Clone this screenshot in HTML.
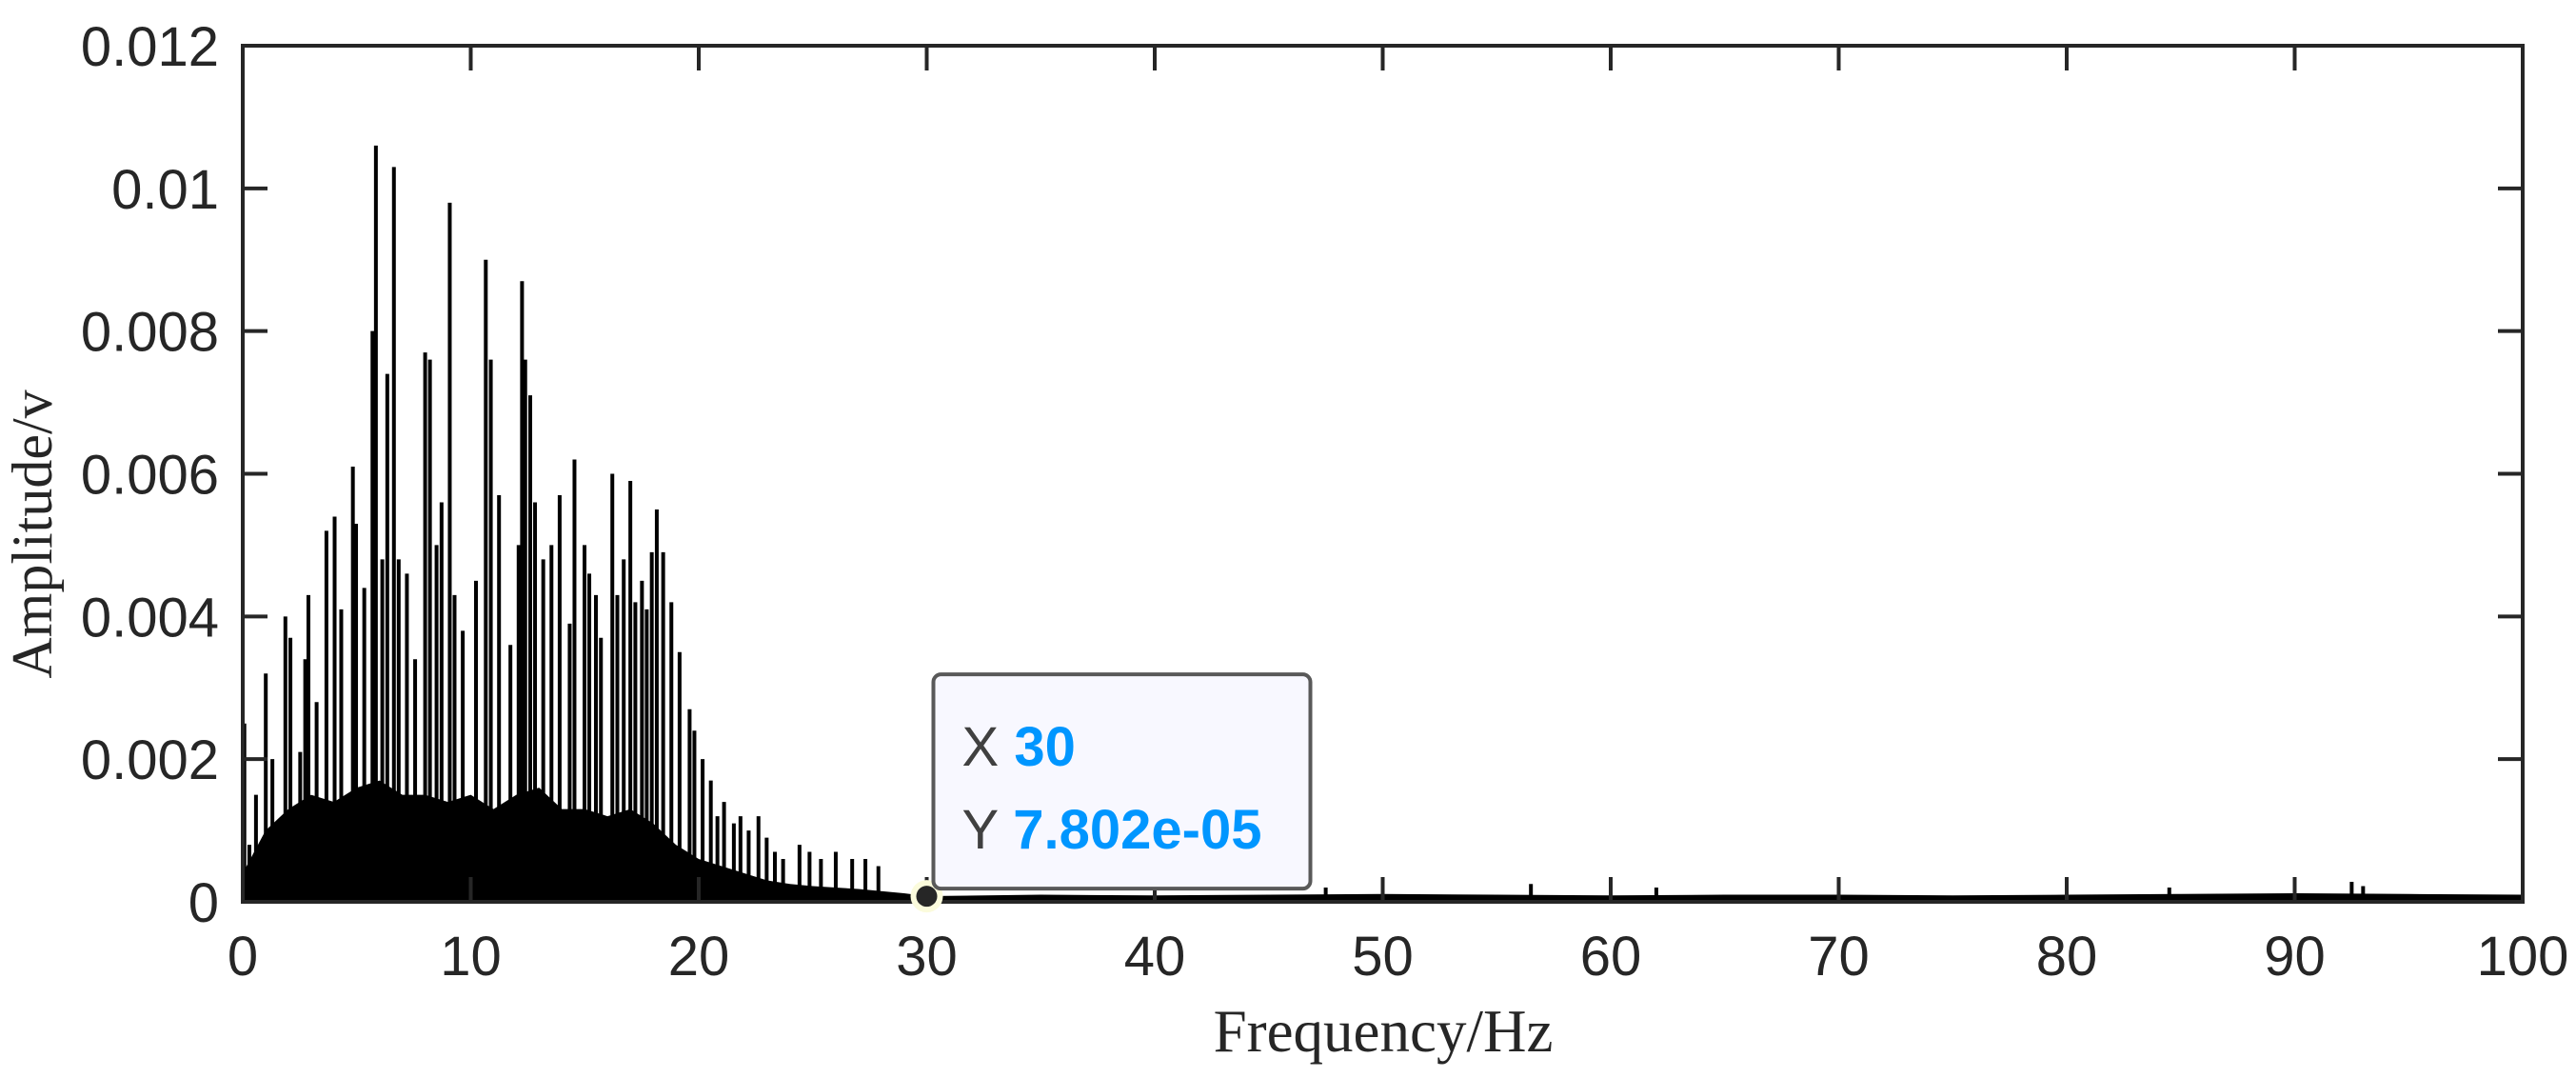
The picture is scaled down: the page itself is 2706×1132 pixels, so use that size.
<!DOCTYPE html>
<html><head><meta charset="utf-8"><style>
html,body{margin:0;padding:0;background:#fff;}
svg{display:block;}
</style></head><body>
<svg id="chart" width="2706" height="1132" viewBox="0 0 2706 1132" xmlns="http://www.w3.org/2000/svg">
<rect width="2706" height="1132" fill="#fff"/>
<g id="plot"></g>
<g id="axes"></g>
<text x="1453" y="1104" font-family="Liberation Serif, serif" font-size="63" text-anchor="middle" fill="#262626">Frequency/Hz</text>
<text transform="translate(54,561) rotate(-90)" font-family="Liberation Serif, serif" font-size="60" text-anchor="middle" fill="#262626">Amplitude/v</text>
<g id="tip"></g>
</svg>
<script>
const xTicks=[0,10,20,30,40,50,60,70,80,90,100];
const yTicks=[0,0.002,0.004,0.006,0.008,0.01,0.012];
const yTickLabels=["0","0.002","0.004","0.006","0.008","0.01","0.012"];
const peakFreq=[0.07,0.29,0.58,1.01,1.30,1.87,2.09,2.52,2.74,2.88,3.24,3.67,4.03,4.32,4.83,4.97,5.33,5.69,5.84,6.12,6.34,6.63,6.84,7.20,7.56,8.00,8.21,8.50,8.72,9.08,9.29,9.65,10.23,10.66,10.88,11.24,11.74,12.10,12.25,12.39,12.61,12.82,13.18,13.54,13.90,14.34,14.55,14.99,15.20,15.49,15.71,16.21,16.43,16.71,17.00,17.22,17.51,17.72,17.94,18.16,18.44,18.80,19.16,19.60,19.81,20.17,20.53,20.82,21.11,21.54,21.83,22.19,22.62,22.98,23.34,23.70,24.42,24.86,25.36,26.01,26.73,27.31,27.88,47.5,56.5,62.0,84.5,92.5,93.0];
const peakAmp=[0.0025,0.0008,0.0015,0.0032,0.0020,0.0040,0.0037,0.0021,0.0034,0.0043,0.0028,0.0052,0.0054,0.0041,0.0061,0.0053,0.0044,0.0080,0.0106,0.0048,0.0074,0.0103,0.0048,0.0046,0.0034,0.0077,0.0076,0.0050,0.0056,0.0098,0.0043,0.0038,0.0045,0.0090,0.0076,0.0057,0.0036,0.0050,0.0087,0.0076,0.0071,0.0056,0.0048,0.0050,0.0057,0.0039,0.0062,0.0050,0.0046,0.0043,0.0037,0.0060,0.0043,0.0048,0.0059,0.0042,0.0045,0.0041,0.0049,0.0055,0.0049,0.0042,0.0035,0.0027,0.0024,0.0020,0.0017,0.0012,0.0014,0.0011,0.0012,0.0010,0.0012,0.0009,0.0007,0.0006,0.0008,0.0007,0.0006,0.0007,0.0006,0.0006,0.0005,0.0002,0.00025,0.0002,0.0002,0.00028,0.00022];
const floorFreq=[0,1,2,3,4,5,6,7,8,9,10,11,12,13,14,15,16,17,18,19,20,21,22,23,24,25,26,27,28,29,30,35,40,45,50,55,60,65,70,75,80,85,90,95,100];
const floorAmp=[0.0004,0.0010,0.0013,0.0015,0.0014,0.0016,0.0017,0.0015,0.0015,0.0014,0.0015,0.0013,0.0015,0.0016,0.0013,0.0013,0.0012,0.0013,0.0011,0.0008,0.0006,0.0005,0.0004,0.0003,0.00025,0.00022,0.0002,0.00018,0.00015,0.00012,0.00008,0.0001,0.00009,0.0001,0.00011,0.0001,0.00009,0.0001,0.0001,0.00009,0.0001,0.00011,0.00012,0.00011,0.0001];
const tipX=30, tipY=7.802e-05;

const L=255,R=2650,T=48,B=947;
const xs=f=>L+(f-0)/(100-0)*(R-L);
const ys=a=>B-(a-0)/(0.012-0)*(B-T);
const NS="http://www.w3.org/2000/svg";
function mk(tag,attrs,parent){const e=document.createElementNS(NS,tag);for(const k in attrs)e.setAttribute(k,attrs[k]);parent.appendChild(e);return e;}
const plot=document.getElementById('plot'),axes=document.getElementById('axes'),tip=document.getElementById('tip');

let pts=[xs(floorFreq[0])+','+B];
floorFreq.forEach((f,i)=>pts.push(xs(f)+','+ys(floorAmp[i])));
pts.push(xs(floorFreq[floorFreq.length-1])+','+B);
const fl=mk('polygon',{points:pts.join(' '),fill:'#000'},plot);



peakFreq.forEach((f,i)=>{
  const ln=mk('line',{x1:xs(f),x2:xs(f),y1:B,y2:ys(peakAmp[i]),stroke:'#000','stroke-width':4},plot);
  
  
});

const fr=mk('rect',{x:L,y:T,width:R-L,height:B-T,fill:'none',stroke:'#262626','stroke-width':4},axes);


xTicks.forEach(t=>{
  const x=xs(t);
  const a=mk('line',{x1:x,x2:x,y1:B,y2:B-26,stroke:'#262626','stroke-width':4},axes);
  
  
  const b=mk('line',{x1:x,x2:x,y1:T,y2:T+26,stroke:'#262626','stroke-width':4},axes);
  
  
  const tx=mk('text',{x:x,y:1024,'font-family':'Liberation Sans, sans-serif','font-size':58,'text-anchor':'middle',fill:'#262626'},axes);
  tx.textContent=String(t);
  
  
});
yTicks.forEach((t,i)=>{
  const y=ys(t);
  const a=mk('line',{x1:L,x2:L+26,y1:y,y2:y,stroke:'#262626','stroke-width':4},axes);
  
  
  const b=mk('line',{x1:R,x2:R-26,y1:y,y2:y,stroke:'#262626','stroke-width':4},axes);
  
  
  const tx=mk('text',{x:230,y:y+21,'font-family':'Liberation Sans, sans-serif','font-size':58,'text-anchor':'end',fill:'#262626'},axes);
  tx.textContent=yTickLabels[i];
  
  
});

const mx=xs(tipX),my=ys(tipY);
const halo=mk('circle',{cx:mx,cy:my,r:17,fill:'#fbfbdc'},tip);


const box=mk('rect',{x:mx+7,y:my-233,width:396,height:225,rx:8,fill:'#f8f8ff',stroke:'#595959','stroke-width':4},tip);


const dot=mk('circle',{cx:mx,cy:my,r:11,fill:'#262626'},tip);


const t1=mk('text',{x:mx+37,y:my-137,'font-family':'Liberation Sans, sans-serif','font-size':58,fill:'#404040'},tip);
t1.innerHTML='X <tspan fill="#0096ff" font-weight="bold">'+tipX+'</tspan>';


const t2=mk('text',{x:mx+37,y:my-50,'font-family':'Liberation Sans, sans-serif','font-size':58,fill:'#404040'},tip);
t2.innerHTML='Y <tspan fill="#0096ff" font-weight="bold">'+tipY.toExponential(3).replace('e-5','e-05')+'</tspan>';


</script>
</body></html>
